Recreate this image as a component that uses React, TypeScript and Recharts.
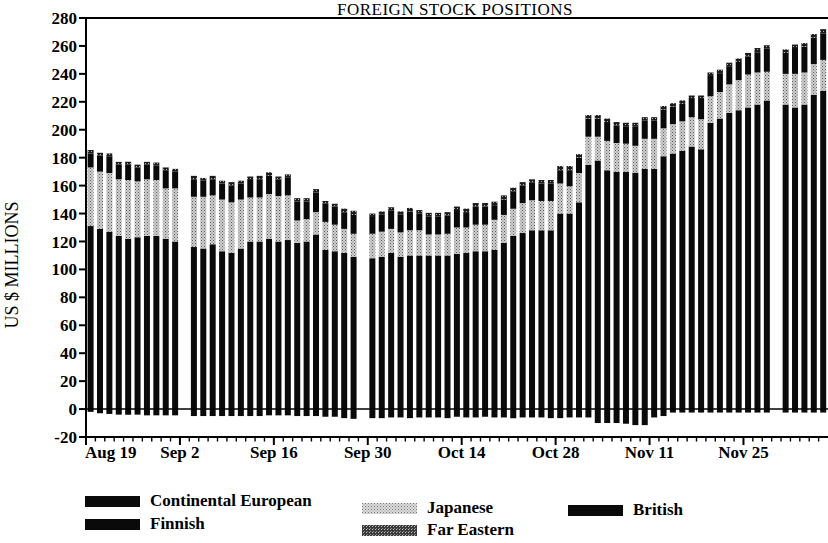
import { BarChart, Bar, XAxis, YAxis, ReferenceLine, Label } from "recharts"

// values in US$ millions, one entry per business day from Aug 19; null = no data that day
const continental = [
  131, 129, 127, 124, 122, 123, 124, 124, 122, 120,
  null,
  116, 115, 118, 113, 112, 115, 120, 120, 122, 120, 121, 119, 120, 125, 114, 113, 112, 109,
  null,
  108, 109, 112, 109, 110, 110, 110, 110, 110,
  111, 112, 113, 113, 114, 119, 124, 126, 128, 128, 128,
  140, 140, 148,
  175, 178, 171, 170, 170, 169,
  172, 172,
  181, 183, 185, 188, 186,
  205, 208, 212, 214, 216, 218, 221,
  null,
  218, 216, 218, 225, 228,
]
const japanese = [
  42, 41, 42, 40.5, 42, 40, 40.5, 40, 36, 38,
  null,
  36, 37, 35, 37, 36, 35, 31.5, 31.5, 32, 32.5, 32, 16, 16, 16, 20, 19, 17, 16.5,
  null,
  17.5, 18, 17, 17.5, 18, 18, 15, 15, 15.5,
  19, 18, 19, 19, 21.5, 20, 19.5, 21.5, 21.5, 21, 21,
  21.5, 19.5, 21,
  20, 17, 21, 20.5, 20, 19.5,
  21.5, 21.5,
  20, 21, 21, 21, 21.5,
  19, 19, 20.5, 21.5, 23.5, 23, 20.5,
  null,
  22, 24, 23, 22, 22,
]
const british = [
  10, 11.5, 12, 10.5, 11, 10, 10.5, 10.5, 13, 12,
  null,
  12.5, 11.5, 11.5, 11.5, 12, 11.5, 12.5, 13, 13, 12, 13, 13.5, 12.5, 14, 13, 13, 11.5, 13.5,
  null,
  12, 12.5, 13, 13, 13.5, 12, 13, 13, 13,
  12.5, 11, 13, 13, 10.5, 11, 12.5, 12.5, 12.5, 12.5, 12.5,
  9.5, 11.5, 11,
  13, 13, 13.5, 12.5, 12.5, 14,
  13, 13,
  13.5, 12.5, 12.5, 13, 14.5,
  14.5, 13.5, 13, 13, 13, 14.5, 16.5,
  null,
  15, 18.5, 18.5, 19, 19,
]
const farEastern = [
  2.5, 2, 2, 2, 2, 2, 2, 2, 2, 2,
  null,
  2.5, 2, 2.5, 2, 2.5, 2, 2.5, 2.5, 2.5, 2, 2, 2.5, 2.5, 2.5, 2, 2, 3, 3,
  null,
  2.5, 2, 2.5, 2, 2.5, 2.5, 2.5, 2.5, 2.5,
  2.5, 2.5, 2.5, 2.5, 2.5, 3, 2.5, 2.5, 2.5, 2.5, 2.5,
  3, 3, 2.5,
  2.5, 2.5, 2.5, 2.5, 2.5, 2.5,
  2.5, 2.5,
  2.5, 2.5, 2.5, 2.5, 2.5,
  2.5, 2.5, 2.5, 2.5, 2.5, 3, 2.5,
  null,
  2.5, 2.5, 2.5, 2.5, 3,
]
const finnish = [
  -2, -3, -3.5, -4, -4, -4, -4.5, -4.5, -4.5, -4.5,
  null,
  -5, -5, -5, -5, -5, -5, -5, -5, -4.5, -4.5, -4.5, -5, -5, -5, -5.5, -5.5, -6.5, -7,
  null,
  -6.5, -6.5, -6, -6, -6.5, -6, -6, -6, -6.5,
  -5.5, -6, -6, -5.5, -6, -6, -6.5, -6, -6, -6, -6.5,
  -6.5, -6, -6,
  -6, -10, -10, -10, -10.5, -11.5,
  -11.5, -6,
  -5, -2.5, -2.5, -2.5, -2.5,
  -2.5, -2.5, -2.5, -2.5, -2.5, -2.5, -2.5,
  null,
  -2.5, -2.5, -2.5, -2.5, -2.5,
]
// one label every 10 business days
const tickLabels = ["Aug 19", "Sep 2", "Sep 16", "Sep 30", "Oct 14", "Oct 28", "Nov 11", "Nov 25"]
const yTicks = [-20, 0, 20, 40, 60, 80, 100, 120, 140, 160, 180, 200, 220, 240, 260, 280]

const MONTHS = ["Jan", "Feb", "Mar", "Apr", "May", "Jun", "Jul", "Aug", "Sep", "Oct", "Nov", "Dec"]
function businessDays(start: Date, count: number) {
  const out: string[] = []
  const d = new Date(start)
  while (out.length < count) {
    const wd = d.getDay()
    if (wd !== 0 && wd !== 6) out.push(`${MONTHS[d.getMonth()]} ${d.getDate()}`)
    d.setDate(d.getDate() + 1)
  }
  return out
}
const days = businessDays(new Date(1991, 7, 19), continental.length)

const data = days.map((day, i) => ({
  day,
  continental: continental[i],
  finnish: finnish[i],
  japanese: japanese[i],
  british: british[i],
  farEastern: farEastern[i],
}))

const FONT = '"Liberation Serif", "Times New Roman", serif'
const W = 828
const H = 543
const PLOT_LEFT = 86
const PLOT_TOP = 18
const AXIS_Y = 437
const BAND = (W - PLOT_LEFT) / data.length

function DayTick(props: any) {
  const index = props.index ?? props.payload?.index ?? 0
  const left = props.x - BAND / 2
  const major = index % 10 === 0
  return (
    <g>
      <line x1={left} x2={left} y1={AXIS_Y} y2={AXIS_Y + (major ? 8 : 4.5)} stroke="#000" strokeWidth={major ? 2 : 1.4} />
      {major && (
        <text
          x={index === 0 ? left - 1 : left}
          y={AXIS_Y + 21}
          textAnchor={index === 0 ? "start" : "middle"}
          fontFamily={FONT}
          fontWeight="bold"
          fontSize={17}
          fill="#000"
        >
          {tickLabels[index / 10]}
        </text>
      )}
    </g>
  )
}

const legendItems = [
  { name: "Continental European", fill: "#0a0a0a", left: 85, top: 496 },
  { name: "Finnish", fill: "#0a0a0a", left: 85, top: 519 },
  { name: "Japanese", fill: "url(#jpLegend)", left: 362, top: 503 },
  { name: "Far Eastern", fill: "url(#feLegend)", left: 362, top: 525 },
  { name: "British", fill: "#0a0a0a", left: 568, top: 505 },
]

export default function App() {
  return (
    <div style={{ position: "absolute", left: 0, top: 0, width: W, height: H, overflow: "hidden", background: "#fff", fontFamily: FONT }}>
      <div
        style={{
          position: "absolute",
          left: 0,
          width: 910,
          top: 1,
          textAlign: "center",
          fontSize: 17,
          lineHeight: "17px",
          letterSpacing: 0.5,
          color: "#000",
          whiteSpace: "nowrap",
        }}
      >
        FOREIGN STOCK POSITIONS
      </div>

      <BarChart
        width={W}
        height={H}
        data={data}
        stackOffset="sign"
        barCategoryGap="17%"
        margin={{ top: PLOT_TOP, right: 0, left: 26, bottom: H - AXIS_Y - 30 }}
      >
        <defs>
          <pattern id="jp" width="3" height="3" patternUnits="userSpaceOnUse">
            <rect width="3" height="3" fill="#cfcfcf" />
            <rect x="0" y="0" width="1" height="1" fill="#5a5a5a" />
            <rect x="1.5" y="1.5" width="1" height="1" fill="#7a7a7a" />
          </pattern>
          <pattern id="fe" width="3" height="3" patternUnits="userSpaceOnUse">
            <rect width="3" height="3" fill="#1c1c1c" />
            <rect x="1" y="1" width="1" height="1" fill="#b4b4b4" />
          </pattern>
          <pattern id="jpLegend" width="3" height="3" patternUnits="userSpaceOnUse">
            <rect width="3" height="3" fill="#dadada" />
            <rect x="0" y="0" width="1" height="1" fill="#7a7a7a" />
            <rect x="1.5" y="1.5" width="1" height="1" fill="#9a9a9a" />
          </pattern>
          <pattern id="feLegend" width="3" height="3" patternUnits="userSpaceOnUse">
            <rect width="3" height="3" fill="#3a3a3a" />
            <rect x="1" y="1" width="1" height="1" fill="#c0c0c0" />
            <rect x="2" y="0" width="1" height="1" fill="#8a8a8a" />
          </pattern>
        </defs>
        <XAxis
          dataKey="day"
          interval={0}
          height={30}
          tickLine={false}
          axisLine={{ stroke: "#000", strokeWidth: 2 }}
          tick={<DayTick />}
        />
        <YAxis
          width={60}
          domain={[-20, 280]}
          ticks={yTicks}
          interval={0}
          tickSize={7}
          tickMargin={2}
          axisLine={{ stroke: "#000", strokeWidth: 2 }}
          tickLine={{ stroke: "#000", strokeWidth: 2 }}
          tick={{ fontSize: 17, fontWeight: "bold", fontFamily: FONT, fill: "#000" }}
        >
          <Label
            content={() => (
              <text
                transform="translate(18,265) rotate(-90)"
                textAnchor="middle"
                fontFamily={FONT}
                fontSize={18}
                fill="#000"
              >
                US $ MILLIONS
              </text>
            )}
          />
        </YAxis>
        <ReferenceLine y={280} stroke="#000" strokeWidth={2} />
        <Bar dataKey="continental" stackId="s" fill="#0a0a0a" isAnimationActive={false} />
        <Bar dataKey="finnish" stackId="s" fill="#0a0a0a" isAnimationActive={false} />
        <Bar dataKey="japanese" stackId="s" fill="url(#jp)" isAnimationActive={false} />
        <Bar dataKey="british" stackId="s" fill="#0a0a0a" isAnimationActive={false} />
        <Bar dataKey="farEastern" stackId="s" fill="url(#fe)" isAnimationActive={false} />
        <ReferenceLine y={0} stroke="#000" strokeWidth={1.6} />
      </BarChart>

      {legendItems.map((item) => (
        <div key={item.name} style={{ position: "absolute", left: item.left, top: item.top, height: 12, whiteSpace: "nowrap" }}>
          <svg width={55} height={11} style={{ position: "absolute", left: 0, top: 0 }}>
            <rect width={55} height={11} fill={item.fill} />
          </svg>
          <span
            style={{
              position: "absolute",
              left: 65,
              top: -6,
              fontSize: 17,
              fontWeight: "bold",
              lineHeight: "22px",
              color: "#000",
            }}
          >
            {item.name}
          </span>
        </div>
      ))}
    </div>
  )
}
